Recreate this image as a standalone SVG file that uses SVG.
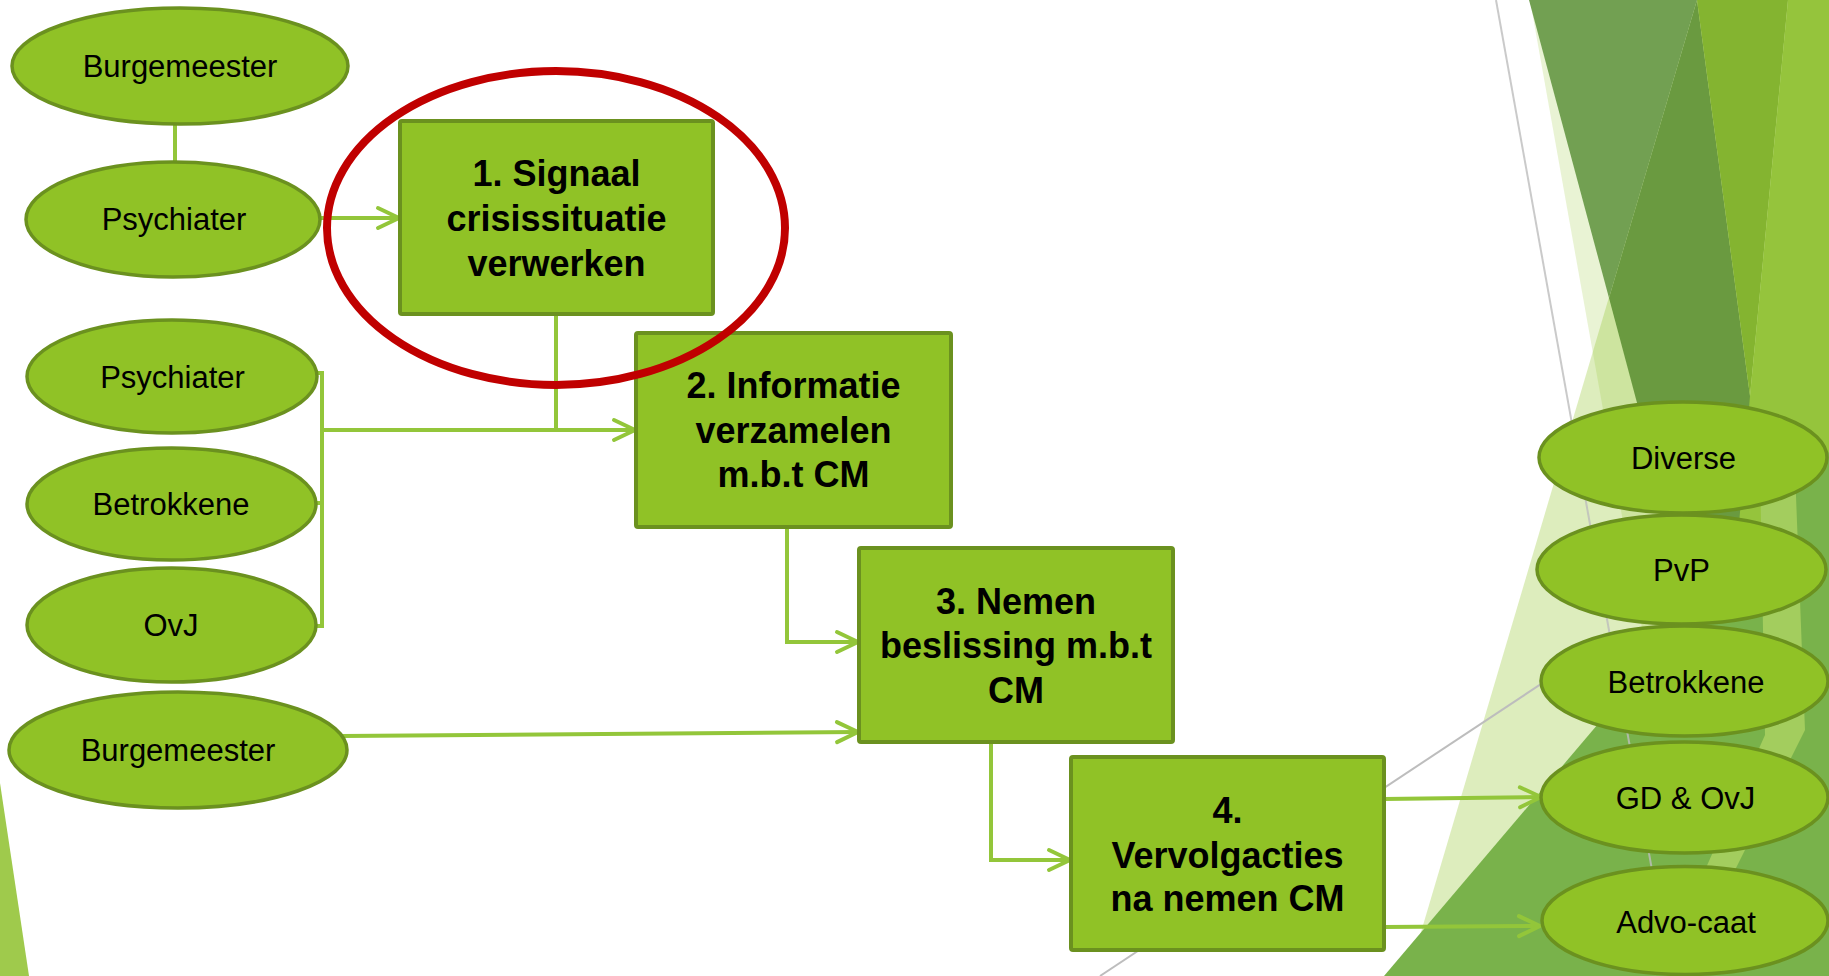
<svg xmlns="http://www.w3.org/2000/svg" width="1829" height="976" viewBox="0 0 1829 976">
<defs>
<style>
.ell{fill:#90c226;stroke:#6b911f;stroke-width:3.5}
.box{fill:#90c226;stroke:#6b911f;stroke-width:4}
.lbl{font-family:"Liberation Sans",Arial,sans-serif;font-size:31px;fill:#000;text-anchor:middle}
.blbl{font-family:"Liberation Sans",Arial,sans-serif;font-size:36px;font-weight:bold;fill:#000;text-anchor:middle}
.con{fill:none;stroke:#93c63a;stroke-width:4}
.arr{marker-end:url(#arrow)}
.gray{stroke:#bdbdbd;stroke-width:2;fill:none}
</style>
<marker id="arrow" viewBox="-26 -14 30 28" refX="0" refY="0" markerWidth="30" markerHeight="28" markerUnits="userSpaceOnUse" orient="auto">
<path d="M-21,-10 L0,0 L-21,10" fill="none" stroke="#93c63a" stroke-width="4" stroke-linecap="round" stroke-linejoin="round"/>
</marker>
</defs>
<rect width="1829" height="976" fill="#ffffff"/>
<g id="decoration">
<polygon points="0,783 29,976 0,976" fill="#9fca4c"/>
<polygon points="1530,0 1829,0 1829,976 1704,976" fill="#90c226" fill-opacity="0.2"/>
<polygon points="1697,0 1829,0 1829,976 1408,976" fill="#90c226" fill-opacity="0.3"/>
<polygon points="1529,0 1697,0 1609,298" fill="#72a052"/>
<polygon points="1697,0 1750,396 1760,560 1679,560 1609,298" fill="#6a9a40"/>
<polygon points="1697,0 1788,0 1750,396" fill="#84b430"/>
<polygon points="1788,0 1829,0 1829,976 1700,976 1750,396" fill="#95c43c"/>
<polygon points="1384,976 1829,452 1829,976" fill="#79b24b"/>
<polygon points="1760,470 1795,470 1805,730 1735,870 1705,870 1765,735" fill="#a3cd5e"/>
<line class="gray" x1="1496" y1="0" x2="1671" y2="976" stroke-opacity="0.8"/>
<line class="gray" x1="1100" y1="976" x2="1600" y2="645" stroke="#d0d0d0"/>
</g>
<g id="connectors">
<line class="con" x1="175" y1="124" x2="175" y2="162"/>
<line class="con arr" x1="320" y1="218" x2="399" y2="218"/>
<polyline class="con" points="317,373 322,373 322,626 317,626"/>
<line class="con" x1="317" y1="503" x2="322" y2="503"/>
<line class="con" x1="556" y1="314" x2="556" y2="430"/>
<line class="con arr" x1="322" y1="430" x2="635" y2="430"/>
<polyline class="con arr" points="787,527 787,642 858,642"/>
<line class="con arr" x1="342" y1="736" x2="858" y2="732"/>
<polyline class="con arr" points="991,742 991,860 1070,860"/>
<line class="con arr" x1="1384" y1="799" x2="1541" y2="797"/>
<line class="con arr" x1="1384" y1="927" x2="1540" y2="926"/>
</g>
<g id="burgemeester1"><ellipse class="ell" cx="180" cy="66" rx="168" ry="58"/><text class="lbl" x="180" y="77">Burgemeester</text></g>
<g id="psychiater1"><ellipse class="ell" cx="173" cy="219.5" rx="147" ry="57.5"/><text class="lbl" x="174" y="230">Psychiater</text></g>
<g id="psychiater2"><ellipse class="ell" cx="172" cy="376.5" rx="145" ry="56.5"/><text class="lbl" x="172.5" y="388">Psychiater</text></g>
<g id="betrokkene1"><ellipse class="ell" cx="171.5" cy="504" rx="144.5" ry="56"/><text class="lbl" x="171" y="515">Betrokkene</text></g>
<g id="ovj"><ellipse class="ell" cx="171.5" cy="625" rx="144.5" ry="57"/><text class="lbl" x="171" y="636">OvJ</text></g>
<g id="burgemeester2"><ellipse class="ell" cx="178" cy="750" rx="169" ry="58"/><text class="lbl" x="178" y="761">Burgemeester</text></g>
<g id="box1"><rect class="box" x="400" y="121" width="313" height="193" rx="2"/>
<text class="blbl" x="556.5"><tspan x="556.5" y="186">1. Signaal</tspan><tspan x="556.5" y="231">crisissituatie</tspan><tspan x="556.5" y="276">verwerken</tspan></text></g>
<g id="box2"><rect class="box" x="636" y="333" width="315" height="194" rx="2"/>
<text class="blbl" x="793.5"><tspan x="793.5" y="398">2. Informatie</tspan><tspan x="793.5" y="443">verzamelen</tspan><tspan x="793.5" y="487">m.b.t CM</tspan></text></g>
<g id="box3"><rect class="box" x="859" y="548" width="314" height="194" rx="2"/>
<text class="blbl" x="1016"><tspan x="1016" y="614">3. Nemen</tspan><tspan x="1016" y="658">beslissing m.b.t</tspan><tspan x="1016" y="703">CM</tspan></text></g>
<g id="box4"><rect class="box" x="1071" y="757" width="313" height="193" rx="2"/>
<text class="blbl" x="1227.5"><tspan x="1227.5" y="823">4.</tspan><tspan x="1227.5" y="868">Vervolgacties</tspan><tspan x="1227.5" y="911">na nemen CM</tspan></text></g>
<g id="diverse"><ellipse class="ell" cx="1683" cy="457.5" rx="144" ry="55.5"/><text class="lbl" x="1683.5" y="469">Diverse</text></g>
<g id="pvp"><ellipse class="ell" cx="1681.5" cy="569.5" rx="144.5" ry="54.5"/><text class="lbl" x="1681.5" y="581">PvP</text></g>
<g id="betrokkene2"><ellipse class="ell" cx="1684.5" cy="681" rx="143.5" ry="55"/><text class="lbl" x="1686" y="693">Betrokkene</text></g>
<g id="gd-ovj"><ellipse class="ell" cx="1684.5" cy="797.5" rx="143.5" ry="55.5"/><text class="lbl" x="1685.5" y="809">GD &amp; OvJ</text></g>
<g id="advocaat"><ellipse class="ell" cx="1685" cy="920.5" rx="143" ry="54"/><text class="lbl" x="1686" y="933">Advo-caat</text></g>
<g id="highlight"><ellipse cx="556" cy="228" rx="229" ry="157" fill="none" stroke="#c00000" stroke-width="8"/></g>
</svg>
